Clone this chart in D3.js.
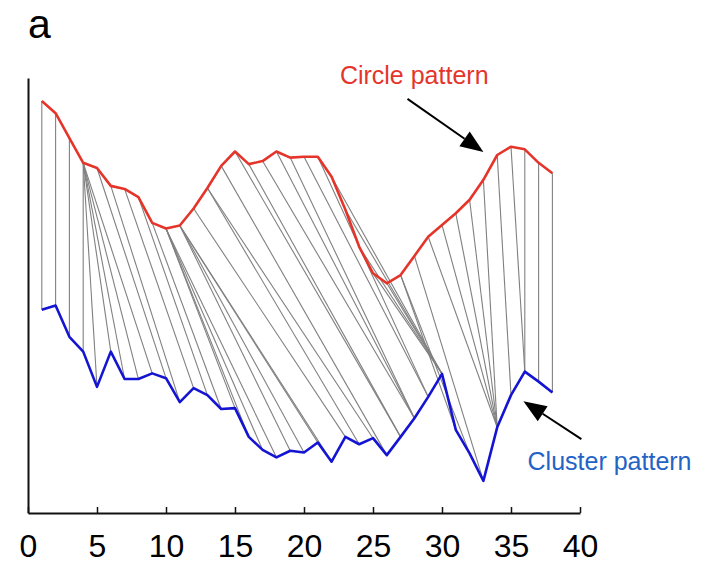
<!DOCTYPE html>
<html>
<head>
<meta charset="utf-8">
<script src="https://cdn.jsdelivr.net/npm/d3@7"></script>
<style>
  body { margin: 0; background: #fff; }
  svg { display: block; font-family: "Liberation Sans", Arial, sans-serif; }
</style>
</head>
<body>
<svg width="718" height="564"></svg>
<script>
// time steps 1..38
const steps = d3.range(1, 39);

// circle pattern (red)
const circleValues = [
  94.7, 91.9, 86.2, 80.5, 79.3, 75.2, 74.5, 72.6, 66.7, 65.4,
  66.1, 70.0, 74.7, 79.8, 83.1, 80.2, 80.9, 83.1, 81.7, 81.9,
  81.9, 77.3, 69.7, 61.2, 55.1, 52.8, 54.7, 59.1, 63.5, 66.2,
  68.9, 72.0, 76.6, 82.3, 84.2, 83.6, 80.5, 78.1
];

// cluster pattern (blue)
const clusterValues = [
  46.7, 47.7, 40.5, 37.1, 29.0, 37.1, 30.8, 30.8, 32.1, 31.0,
  25.5, 28.7, 27.1, 23.9, 24.1, 17.5, 14.5, 12.8, 14.3, 13.9,
  16.2, 11.8, 17.5, 15.8, 17.2, 13.3, 17.5, 21.8, 26.7, 32.0,
  19.1, 13.7, 7.4, 19.7, 27.1, 32.5, 30.2, 27.7
];

// warping path: [circle step, cluster step]
const alignment = [
  [1, 1], [2, 2], [3, 3], [4, 4], [4, 5], [4, 6], [4, 7], [4, 8], [4, 9],
  [5, 10], [6, 11], [7, 12], [8, 13], [9, 14], [10, 15], [10, 16], [10, 17],
  [10, 18], [11, 19], [11, 20], [11, 21], [11, 22], [12, 23], [13, 24],
  [13, 25], [14, 26], [15, 27], [16, 27], [17, 28], [18, 28], [19, 28],
  [20, 29], [21, 29], [22, 30], [23, 30], [24, 30], [25, 30], [26, 30],
  [27, 31], [27, 32], [28, 33], [29, 34], [30, 34], [31, 34], [32, 34],
  [33, 34], [34, 35], [35, 36], [36, 36], [37, 37], [38, 38]
];

const xTicks = [0, 5, 10, 15, 20, 25, 30, 35, 40];

const svg = d3.select("svg");

const x = d3.scaleLinear().domain([0, 40]).range([28, 580]);
const y = d3.scaleLinear().domain([0, 100]).range([513, 78]);

// alignment lines
svg.append("g")
  .selectAll("line")
  .data(alignment)
  .enter()
  .append("line")
  .attr("x1", d => x(d[0]))
  .attr("y1", d => y(circleValues[d[0] - 1]))
  .attr("x2", d => x(d[1]))
  .attr("y2", d => y(clusterValues[d[1] - 1]))
  .attr("stroke", "#808080")
  .attr("stroke-width", 1.1);

const line = d3.line()
  .x((d, i) => x(steps[i]))
  .y(d => y(d));

svg.append("path")
  .attr("d", line(circleValues))
  .attr("fill", "none")
  .attr("stroke", "#e5352b")
  .attr("stroke-width", 2.6)
  .attr("stroke-linejoin", "round");

svg.append("path")
  .attr("d", line(clusterValues))
  .attr("fill", "none")
  .attr("stroke", "#1414d2")
  .attr("stroke-width", 2.6)
  .attr("stroke-linejoin", "round");

// axes
const xAxis = svg.append("g")
  .attr("transform", `translate(0, ${y(0)})`)
  .call(d3.axisBottom(x).tickValues(xTicks).tickSizeInner(-6).tickSizeOuter(0).tickPadding(21));
xAxis.select(".domain").attr("stroke", "#111").attr("stroke-width", 2);
xAxis.selectAll(".tick line").attr("stroke", "#111").attr("stroke-width", 1.5);
xAxis.selectAll(".tick text")
  .attr("fill", "#000")
  .style("font-size", "32px")
  .style("font-family", "'Liberation Sans', Arial, sans-serif");

const yAxis = svg.append("g")
  .attr("transform", `translate(${x(0)}, 0)`)
  .call(d3.axisLeft(y).tickValues([]).tickSizeOuter(0));
yAxis.select(".domain").attr("stroke", "#111").attr("stroke-width", 2);

// panel label
svg.append("text")
  .attr("x", 28)
  .attr("y", 38)
  .style("font-size", "41px")
  .attr("fill", "#000")
  .text("a");

// annotations
function arrow(x1, y1, x2, y2) {
  const a = Math.atan2(y2 - y1, x2 - x1);
  const len = 23, half = 9;
  const bx = x2 - len * Math.cos(a), by = y2 - len * Math.sin(a);
  svg.append("line")
    .attr("x1", x1).attr("y1", y1)
    .attr("x2", bx).attr("y2", by)
    .attr("stroke", "#000")
    .attr("stroke-width", 2);
  const pts = [
    [x2, y2],
    [bx + half * Math.sin(a), by - half * Math.cos(a)],
    [bx - half * Math.sin(a), by + half * Math.cos(a)]
  ];
  svg.append("polygon")
    .attr("points", pts.map(p => p.join(",")).join(" "))
    .attr("fill", "#000");
}

svg.append("text")
  .attr("x", x(22.6))
  .attr("y", y(98.6))
  .attr("fill", "#e5352b")
  .style("font-size", "25px")
  .text("Circle pattern");
arrow(x(27.5), y(95.2), x(33.0), y(83.0));

svg.append("text")
  .attr("x", x(36.2))
  .attr("y", y(9.9))
  .attr("fill", "#2462c6")
  .style("font-size", "25px")
  .text("Cluster pattern");
arrow(x(40.1), y(17.0), x(35.9), y(25.7));
</script>
</body>
</html>
